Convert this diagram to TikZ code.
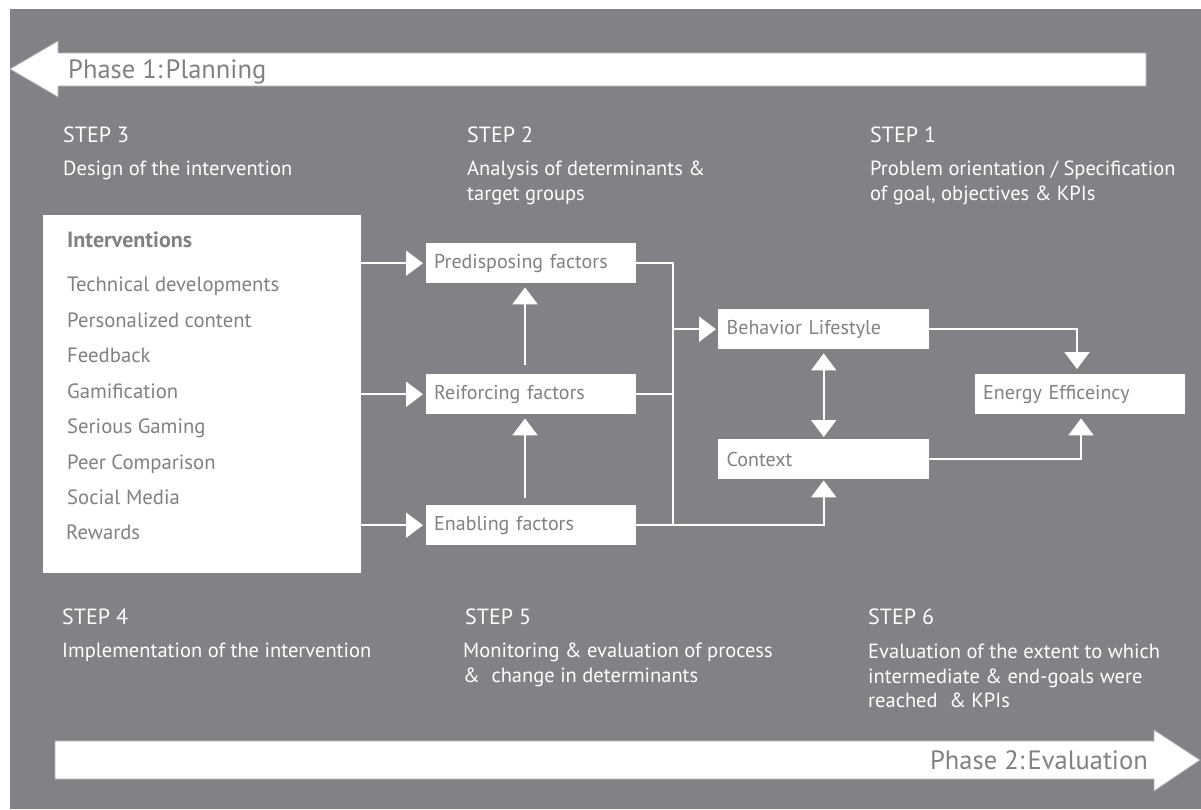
\documentclass[tikz,border=0pt]{standalone}
\usepackage{fontspec}
\setmainfont{PT Sans}
\usetikzlibrary{arrows.meta}
\definecolor{bg}{RGB}{129,130,134}
\definecolor{ink}{RGB}{128,129,133}
\definecolor{rim}{RGB}{175,176,179}

\begin{document}
\begin{tikzpicture}[x=1pt,y=-1pt,
  fbox/.style={fill=white, text=ink, anchor=north west, minimum width=210pt,
    minimum height=40pt, text width=194pt, inner xsep=8pt, inner ysep=0pt,
    align=left, font=\fontsize{20}{24}\selectfont},
  wire/.style={draw=white, line width=2.2pt},
  link/.style={wire, -{Triangle[length=17pt,width=25pt]}},
  duallink/.style={wire, {Triangle[length=17pt,width=25pt]}-{Triangle[length=17pt,width=25pt]}},
  steplabel/.style={text=white, anchor=base west, inner sep=0pt, font=\fontsize{22}{26}\selectfont},
  steptext/.style={text=white, anchor=base west, inner sep=0pt, font=\fontsize{20.5}{25}\selectfont},
  item/.style={text=ink, anchor=base west, inner sep=0pt, font=\fontsize{20.7}{24}\selectfont},
  phase/.style={text=ink, inner sep=0pt, font=\fontsize{26.5}{32}\selectfont},
  band/.style={fill=white, draw=rim, line width=0.8pt},
]
\useasboundingbox (0,0) rectangle (1201,809);
\fill[white] (0,0) rectangle (1201,809);
\fill[bg] (10,9) rectangle (1201,809);

% phase bands
\filldraw[band] (1146,53) -- (58,53) -- (58,41) -- (10,69) -- (58,97) -- (58,86) -- (1146,86) -- cycle;
\node[phase, anchor=base west] (ph1) at (68,78) {Phase 1:\hspace{0.12em}Planning};
\filldraw[band] (55,741) -- (1154,741) -- (1154,730) -- (1200,760) -- (1154,791) -- (1154,779) -- (55,779) -- cycle;
\node[phase, anchor=base east] (ph2) at (1148,769) {Phase 2:\hspace{0.12em}Evaluation};

% steps above
\node[steplabel] (s3) at (63,142) {STEP 3};
\node[steptext] (s3a) at (63,175) {Design of the intervention};
\node[steplabel] (s2) at (467,142) {STEP 2};
\node[steptext] (s2a) at (467,175) {Analysis of determinants \&};
\node[steptext] (s2b) at (467,200) {target groups};
\node[steplabel] (s1) at (870,142) {STEP 1};
\node[steptext] (s1a) at (870,175) {Problem orientation / Specification};
\node[steptext] (s1b) at (870,200) {of goal, objectives \& KPIs};

% steps below
\node[steplabel] (s4) at (62,624) {STEP 4};
\node[steptext] (s4a) at (62,657) {Implementation of the intervention};
\node[steplabel] (s5) at (465,624) {STEP 5};
\node[steptext] (s5a) at (463,657) {Monitoring \& evaluation of process};
\node[steptext] (s5b) at (463,682) {\&\hspace{0.3em} change in determinants};
\node[steplabel] (s6) at (868,624) {STEP 6};
\node[steptext] (s6a) at (868,658) {Evaluation of the extent to which};
\node[steptext] (s6b) at (868,683) {intermediate \& end-goals were};
\node[steptext] (s6c) at (868,707) {reached\hspace{0.3em} \& KPIs};

% interventions
\node[fill=white, anchor=north west, minimum width=318pt, minimum height=358pt, inner sep=0pt] (iv) at (43,215) {};
\node[item, font=\fontsize{22}{26}\selectfont\bfseries] (ivt) at (67,247) {Interventions};
\node[item] (iv1) at (67,291) {Technical developments};
\node[item] (iv2) at (67,327) {Personalized content};
\node[item] (iv3) at (67,362) {Feedback};
\node[item] (iv4) at (67,398) {Gamification};
\node[item] (iv5) at (67,433) {Serious Gaming};
\node[item] (iv6) at (67,469) {Peer Comparison};
\node[item] (iv7) at (67,504) {Social Media};
\node[item] (iv8) at (66,539) {Rewards};

% determinants and outcomes
\node[fbox] (pre) at (426,243) {Predisposing factors};
\node[fbox] (rei) at (426,374) {Reiforcing factors};
\node[fbox] (ena) at (426,505) {Enabling factors};
\node[fbox, minimum width=211pt] (beh) at (718,309) {Behavior Lifestyle};
\node[fbox, minimum width=211pt] (ctx) at (718,439) {Context};
\node[fbox] (eff) at (975,374) {Energy Efficeincy};

% helper columns
\coordinate (vx) at (525,0);
\coordinate (bus) at (673,0);
\coordinate (ex1) at (1077,0);
\coordinate (ex2) at (1081,0);

% interventions to determinants
\draw[link, shorten >=3pt] (iv.east |- pre.west) -- (pre.west);
\draw[link, shorten >=3pt] (iv.east |- rei.west) -- (rei.west);
\draw[link, shorten >=3pt] (iv.east |- ena.west) -- (ena.west);

% determinants feeding upward
\draw[link, shorten <=9pt, shorten >=4pt] (vx |- rei.north) -- (vx |- pre.south);
\draw[link, shorten <=7pt, shorten >=4pt] (vx |- ena.north) -- (vx |- rei.south);

% collecting bus
\draw[wire] (pre.east) -- (bus |- pre.east) -- (bus |- ena.east);
\draw[wire] (rei.east) -- (bus |- rei.east);
\draw[link, shorten >=2pt] (bus |- beh.west) -- (beh.west);
\draw[link, shorten >=1pt] (ena.east) -- (ctx.south |- ena.east) -- (ctx.south);

% behaviour, context and outcome
\draw[duallink, shorten <=4pt, shorten >=2pt] (beh.south) -- (ctx.north);
\draw[link, shorten >=5pt] (beh.east) -- (ex1 |- beh.east) -- (ex1 |- eff.north);
\draw[link, shorten >=4pt] (ctx.east) -- (ex2 |- ctx.east) -- (ex2 |- eff.south);
\end{tikzpicture}
\end{document}
